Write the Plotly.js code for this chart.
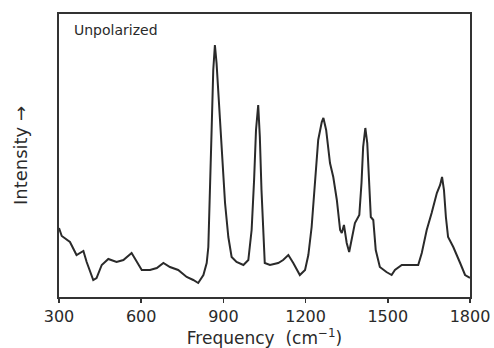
<!DOCTYPE html>
<html>
<head>
<meta charset="utf-8">
<script src="https://cdn.plot.ly/plotly-3.0.1.min.js"></script>
<style>html,body{margin:0;padding:0;background:#fff;}#chart{width:494px;height:348px;}</style>
</head>
<body>
<div id="chart"></div>
<script>
const frequency = [300,310,340,364,389,401,425,437,456,480,510,535,565,584,602,632,657,681,705,735,766,790,808,827,839,845,851,857,863,869,875,882,894,906,918,930,948,973,991,1003,1012,1019,1027,1033,1039,1045,1051,1070,1100,1118,1137,1155,1179,1198,1210,1222,1234,1246,1259,1265,1275,1289,1301,1314,1326,1332,1340,1350,1359,1368,1380,1396,1404,1410,1418,1425,1432,1438,1447,1456,1471,1495,1514,1526,1551,1581,1611,1624,1642,1660,1679,1691,1698,1705,1712,1720,1739,1764,1782,1800];
const intensity = [69,61,55,42,46,35,17,19,32,38,35,37,44,35,27,27,29,34,30,27,20,17,14,22,34,50,100,167,227,252,234,200,140,94,60,40,35,32,37,67,117,167,192,160,107,60,34,32,34,37,42,34,22,27,42,70,110,157,175,179,167,134,120,97,67,64,72,54,45,57,74,82,114,150,169,154,104,80,77,47,30,25,22,27,32,32,32,44,67,84,104,112,120,107,80,60,50,34,22,19];
const xTicks = [300,600,900,1200,1500,1800];

const fontFam = 'DejaVu Sans, sans-serif';
Plotly.newPlot('chart', [{
  x: frequency, y: intensity, type: 'scatter', mode: 'lines',
  line: {color: '#2a2a2a', width: 2}, hoverinfo: 'skip'
}], {
  width: 494, height: 348,
  margin: {l: 59, r: 24, t: 14, b: 51},
  paper_bgcolor: '#fff', plot_bgcolor: '#fff',
  showlegend: false,
  font: {family: fontFam, color: '#2a2a2a'},
  xaxis: {
    range: [300, 1800], tickvals: xTicks, ticktext: xTicks.map(String),
    ticks: 'outside', ticklen: 4, tickwidth: 1.5, tickcolor: '#333',
    showline: true, linewidth: 2, linecolor: '#333', mirror: true,
    showgrid: false, zeroline: false,
    tickfont: {size: 16, family: fontFam, color: '#2a2a2a'},
    title: {text: 'Frequency  (cm<sup>−1</sup>)', font: {size: 17, family: fontFam, color: '#2a2a2a'}, standoff: 4}
  },
  yaxis: {
    range: [0, 283], showticklabels: false, ticks: '',
    showline: true, linewidth: 2, linecolor: '#333', mirror: true,
    showgrid: false, zeroline: false,
    title: {text: 'Intensity →', font: {size: 18, family: fontFam, color: '#2a2a2a'}, standoff: 25}
  },
  annotations: [{
    text: 'Unpolarized', xref: 'paper', yref: 'paper', x: 0.032, y: 0.943,
    xanchor: 'left', yanchor: 'middle', showarrow: false,
    font: {size: 14, family: fontFam, color: '#2a2a2a'}
  }]
}, {displayModeBar: false, staticPlot: true});
</script>
</body>
</html>
